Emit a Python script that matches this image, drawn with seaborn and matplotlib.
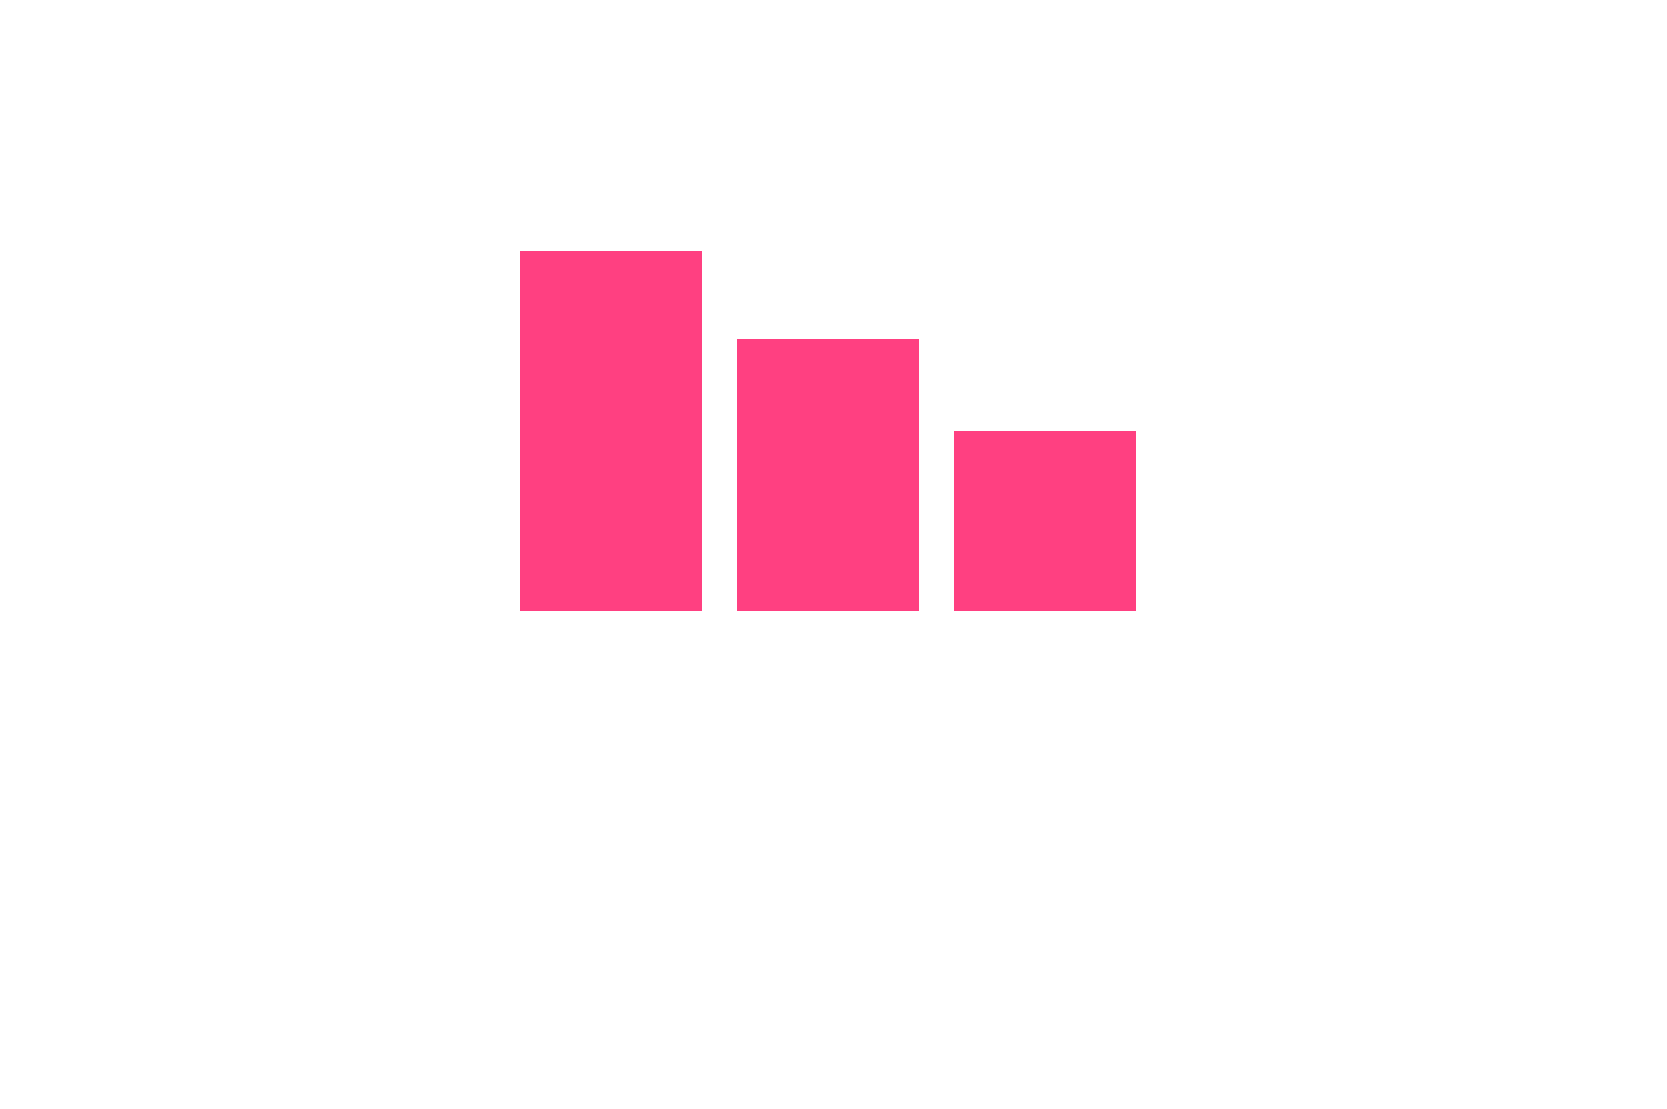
import matplotlib
matplotlib.use("Agg")
import matplotlib.pyplot as plt
import seaborn as sns
import pandas as pd

# data: three bars, no visible axes or labels
categories = ["A", "B", "C"]
values = [4.0, 3.02, 2.0]

df = pd.DataFrame({"category": categories, "value": values})

sns.set_theme(style="white")

fig = plt.figure(figsize=(16.67, 11.09), dpi=100)
ax = fig.add_axes([0, 0, 1, 1])

sns.barplot(data=df, x="category", y="value", color="#FF4081",
            saturation=1, width=0.84, linewidth=0, ax=ax)

# place bars: first center ~611px, spacing 217px, baseline ~611px from top
px_x = 217.0
ax.set_xlim(-611 / px_x, (1667 - 611) / px_x)
px_y = 90.0
ax.set_ylim(-(1109 - 611) / px_y, 611 / px_y)

ax.axis("off")
fig.savefig("out.png", dpi=100, facecolor="white")
